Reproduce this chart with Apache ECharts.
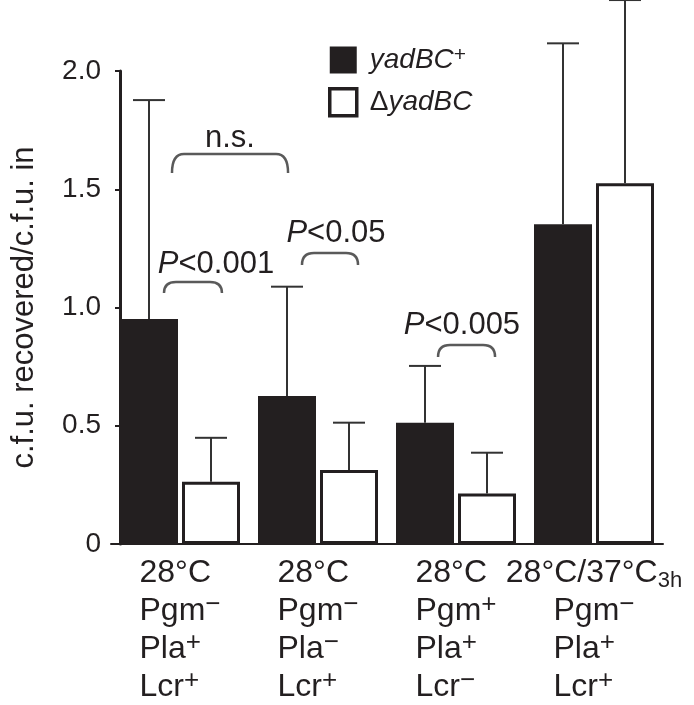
<!DOCTYPE html>
<html><head><meta charset="utf-8">
<script src="https://cdn.jsdelivr.net/npm/echarts@6/dist/echarts.min.js"></script>
<style>html,body{margin:0;padding:0;background:#fff}#c{width:694px;height:705px}</style>
</head><body><div id="c"></div>
<script>
// ---- data ----
const categories = ['28°C Pgm− Pla+ Lcr+', '28°C Pgm− Pla− Lcr+', '28°C Pgm+ Pla+ Lcr−', '28°C/37°C3h Pgm− Pla+ Lcr+'];
const temps = ['28°C', '28°C', '28°C', '28°C/37°C'];
const tempSubs = ['', '', '', '3h'];
const pgm = ['−', '−', '+', '−'];
const pla = ['+', '−', '+', '+'];
const lcr = ['+', '+', '−', '+'];
const seriesNames = ['yadBC+', 'ΔyadBC'];
const yadMean = [0.951, 0.626, 0.513, 1.352];
const yadUpper = [1.877, 1.088, 0.753, 2.117];
const delMean = [0.263, 0.313, 0.214, 1.525];
const delUpper = [0.449, 0.513, 0.386, 2.30];
const yMin = 0, yMax = 2.0, yStep = 0.5;
// significance brackets (x in category units, y in axis units)
const bracketFrom = [-0.116, -0.058, 0.884, 1.870];
const bracketTo = [0.304, 0.783, 1.290, 2.283];
const bracketTop = [1.108, 1.649, 1.230, 0.841];
const bracketFoot = [1.061, 1.569, 1.180, 0.791];
const sigLabels = ['P<0.001', 'n.s.', 'P<0.05', 'P<0.005'];
const sigX = [0.261, 0.362, 1.130, 2.043];
const sigY = [1.184, 1.716, 1.315, 0.926];

// ---- styles ----
const FF = '"Liberation Sans", Arial, Helvetica, sans-serif';
const INK = '#231f20';
const BAR_W = 58, BAR_GAP = 4;
const XL = 32, XS = 22, XSUP = 26;
const mctx = document.createElement('canvas').getContext('2d');
function tw(t, size) { mctx.font = size + 'px "Liberation Sans"'; return mctx.measureText(t).width; }
const w1 = tw(temps[3], XL) + tw(tempSubs[3], XS);
const wRest = Math.max(tw('Pgm', XL) + tw('−', XSUP), tw('Pla', XL) + tw('+', XSUP), tw('Lcr', XL) + tw('+', XSUP));
const pad4 = Math.max(0, (w1 - wRest) / 2);

const chart = echarts.init(document.getElementById('c'), null, {renderer: 'canvas'});

const errData = [];
for (let i = 0; i < categories.length; i++) {
  errData.push([i, yadMean[i], yadUpper[i], 0]);
  errData.push([i, delMean[i], delUpper[i], 1]);
}
const bracketData = bracketFrom.map((v, i) => [v, bracketTo[i], bracketTop[i], bracketFoot[i]]);
const sigData = sigX.map((v, i) => [v, sigY[i]]);

function sigRich(t) {
  return t.charAt(0) === 'P' ? '{i|P}{n|' + t.slice(1) + '}' : '{n|' + t + '}';
}

const option = {
  animation: false,
  backgroundColor: '#fff',
  grid: {left: 111, right: 31, top: 71, bottom: 161, containLabel: false, outerBoundsMode: 'none'},
  legend: {
    orient: 'vertical', left: 328, top: 45, padding: 0, itemWidth: 27, itemHeight: 27, itemGap: 13,
    icon: 'rect', selectedMode: false,
    data: [
      {name: seriesNames[0], itemStyle: {color: INK, borderWidth: 0}},
      {name: seriesNames[1], itemStyle: {color: '#fff', borderColor: INK, borderWidth: 3.5}}
    ],
    formatter: n => n === seriesNames[0] ? '{a|yadBC}{s|+}' : '{d|Δ}{b|yadBC}',
    textStyle: {
      fontSize: 28, fontFamily: FF, color: INK,
      rich: {
        a: {fontSize: 28, fontFamily: FF, fontStyle: 'italic', color: INK, padding: [0, 0, 0, 8], lineHeight: 30},
        b: {fontSize: 28, fontFamily: FF, fontStyle: 'italic', color: INK, lineHeight: 30},
        d: {fontSize: 28, fontFamily: FF, color: INK, padding: [0, 0, 0, 8], lineHeight: 30},
        s: {fontSize: 21, fontFamily: FF, color: INK, verticalAlign: 'top', lineHeight: 20}
      }
    }
  },
  xAxis: [
    {
      type: 'category', data: categories,
      axisLine: {show: true, lineStyle: {color: INK, width: 2}},
      axisTick: {show: false},
      axisLabel: {
        interval: 0, hideOverlap: false, margin: 10, color: INK,
        fontSize: XL, fontFamily: FF,
        formatter: (val, i) => {
          const m = i === 3 ? 'tp' : 't';
          const sup = s => s === '+' ? '{sp|+}' : '{sm|−}';
          const l1 = '{t|' + temps[i] + '}' + (tempSubs[i] ? '{sb|' + tempSubs[i] + '}' : '');
          return [l1,
            '{' + m + '|Pgm}' + sup(pgm[i]),
            '{' + m + '|Pla}' + sup(pla[i]),
            '{' + m + '|Lcr}' + sup(lcr[i])].join('\n');
        },
        rich: {
          t: {fontSize: XL, fontFamily: FF, color: INK, align: 'left', lineHeight: 38},
          tp: {fontSize: XL, fontFamily: FF, color: INK, align: 'left', lineHeight: 38, padding: [0, 0, 0, pad4]},
          sb: {fontSize: XS, fontFamily: FF, color: INK, align: 'left', verticalAlign: 'bottom', lineHeight: 27},
          sp: {fontSize: XSUP, fontFamily: FF, color: INK, align: 'left', verticalAlign: 'top', lineHeight: 32},
          sm: {fontSize: XSUP, fontFamily: FF, color: INK, align: 'left', verticalAlign: 'top', lineHeight: 22}
        }
      }
    },
    {type: 'value', min: -0.5, max: 3.5, show: false}
  ],
  yAxis: {
    type: 'value', min: yMin, max: yMax, interval: yStep, offset: -9,
    name: 'c.f.u. recovered/c.f.u. in', nameLocation: 'middle', nameRotate: 90, nameGap: 80,
    nameTextStyle: {fontSize: 31, fontFamily: FF, color: INK},
    axisLine: {show: true, onZero: false, lineStyle: {color: INK, width: 3}},
    axisTick: {show: true, length: 5, lineStyle: {color: INK, width: 2}},
    splitLine: {show: false},
    axisLabel: {fontSize: 28, fontFamily: FF, color: INK, margin: 19,
      formatter: v => v === 0 ? '0' : v.toFixed(1)}
  },
  series: [
    {name: seriesNames[0], type: 'bar', data: yadMean, barWidth: BAR_W, barGap: (BAR_GAP / BAR_W * 100) + '%',
      itemStyle: {color: INK}, z: 2},
    {name: seriesNames[1], type: 'bar', data: delMean, barWidth: BAR_W,
      itemStyle: {color: '#fff', borderColor: INK, borderWidth: 3}, z: 2},
    {
      type: 'custom', name: 'err', xAxisIndex: 0, yAxisIndex: 0, data: errData, clip: false, z: 3,
      encode: {x: 0, y: [1, 2]},
      renderItem: (params, api) => {
        const off = (api.value(3) === 0 ? -1 : 1) * (BAR_W + BAR_GAP) / 2;
        const p0 = api.coord([api.value(0), api.value(1)]);
        const p1 = api.coord([api.value(0), api.value(2)]);
        const x = p0[0] + off;
        const st = {stroke: '#333', lineWidth: 2};
        return {type: 'group', children: [
          {type: 'line', shape: {x1: x, y1: p0[1], x2: x, y2: p1[1]}, style: st},
          {type: 'line', shape: {x1: x - 16, y1: p1[1], x2: x + 16, y2: p1[1]}, style: st}
        ]};
      }
    },
    {
      type: 'custom', name: 'brackets', xAxisIndex: 1, yAxisIndex: 0, data: bracketData, clip: false, z: 4,
      encode: {x: [0, 1], y: [2, 3]},
      renderItem: (params, api) => {
        const a = api.coord([api.value(0), api.value(2)]);
        const b = api.coord([api.value(1), api.value(3)]);
        const r = 12;
        const d = 'M' + a[0] + ' ' + b[1] + ' Q' + a[0] + ' ' + a[1] + ' ' + (a[0] + r) + ' ' + a[1] +
          ' L' + (b[0] - r) + ' ' + a[1] + ' Q' + b[0] + ' ' + a[1] + ' ' + b[0] + ' ' + b[1];
        return {type: 'path', shape: {pathData: d}, style: {stroke: '#5a5a5a', lineWidth: 2.5, fill: null}};
      }
    },
    {
      type: 'custom', name: 'sig', xAxisIndex: 1, yAxisIndex: 0, data: sigData, clip: false, z: 4,
      encode: {x: 0, y: 1},
      renderItem: (params, api) => {
        const p = api.coord([api.value(0), api.value(1)]);
        return {type: 'text', x: p[0], y: p[1], style: {
          text: sigRich(sigLabels[params.dataIndex]), align: 'center', verticalAlign: 'middle', fill: INK,
          font: '31px ' + FF,
          rich: {
            i: {font: 'italic 31px ' + FF, fill: INK},
            n: {font: '31px ' + FF, fill: INK}
          }
        }};
      }
    }
  ]
};
chart.setOption(option);
</script>
</body></html>
